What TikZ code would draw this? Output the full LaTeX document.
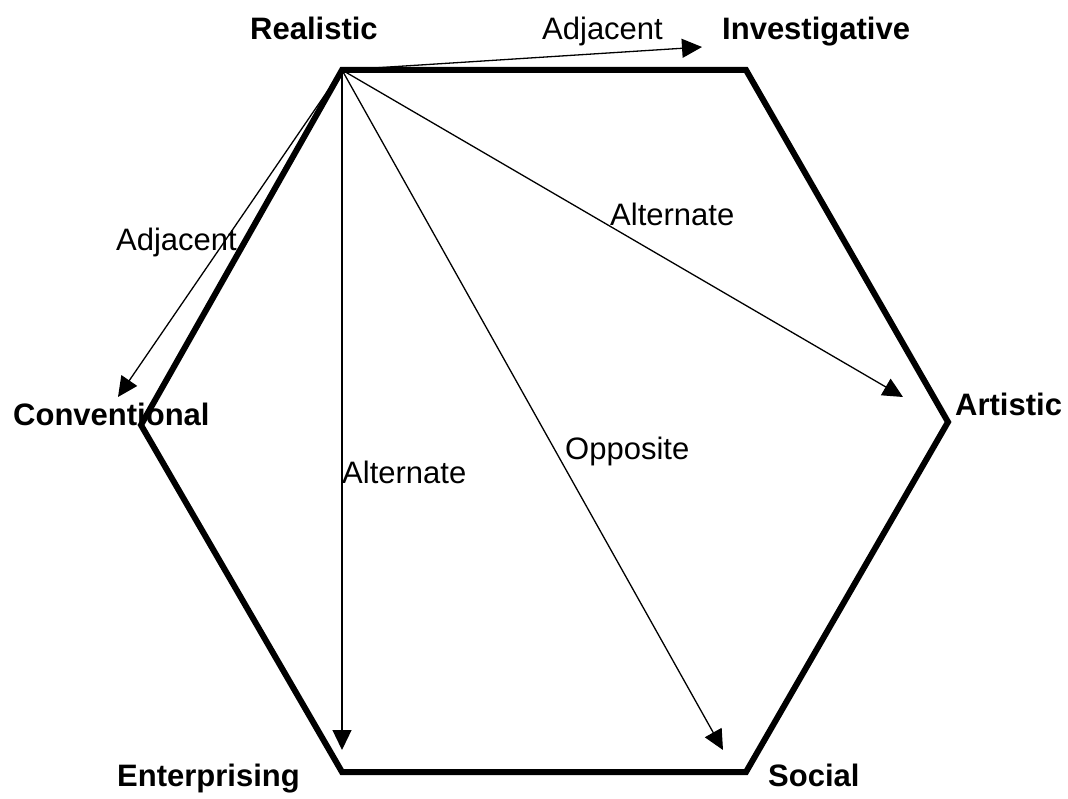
\documentclass[tikz,border=0pt]{standalone}
\usepackage{fontspec}
\setmainfont{Liberation Sans}
\usepackage{tikz}
\usetikzlibrary{arrows.meta}

\tikzset{
  typename/.style={anchor=base west, inner sep=0pt, font=\fontsize{31}{36}\selectfont\bfseries},
  relname/.style={anchor=base west, inner sep=0pt, font=\fontsize{31}{36}\selectfont},
  hexline/.style={line width=6pt},
  relarrow/.style={line width=1.3pt, -{Triangle[length=20pt,width=19pt]}}
}

\begin{document}
\begin{tikzpicture}[x=1pt,y=-1pt]
\useasboundingbox (0,0) rectangle (1068,799);
% hexagon corners
\coordinate (R) at (342,70);
\coordinate (I) at (746,70);
\coordinate (A) at (948,422);
\coordinate (S) at (746,772);
\coordinate (E) at (342,772);
\coordinate (C) at (141,425);
\draw[hexline] (R) -- (I) -- (A) -- (S) -- (E) -- (C) -- cycle;
% arrow ends
\coordinate (toI) at (702,47);
\coordinate (toC) at (118,397);
\coordinate (toA) at (903,397);
\coordinate (toS) at (723,750);
\coordinate (toE) at (342,750);
\draw[relarrow] (R) -- (toI);
\draw[relarrow] (R) -- (toC);
\draw[relarrow] (R) -- (toA);
\draw[relarrow] (R) -- (toS);
\draw[relarrow] (R) -- (toE);
% type names
\node[typename] (nR) at (250,40) {Realistic};
\node[typename] (nI) at (722,40) {Investigative};
\node[typename] (nA) at (955,415) {Artistic};
\node[typename] (nS) at (768,786) {Social};
\node[typename] (nE) at (117,786) {Enterprising};
\node[typename] (nC) at (13,425) {Conventional};
% relations
\node[relname] (adjI) at (542,40) {Adjacent};
\node[relname] (adjC) at (116,251) {Adjacent};
\node[relname] (altA) at (610,226) {Alternate};
\node[relname] (oppS) at (565,459) {Opposite};
\node[relname] (altE) at (342,483) {Alternate};
\end{tikzpicture}
\end{document}
